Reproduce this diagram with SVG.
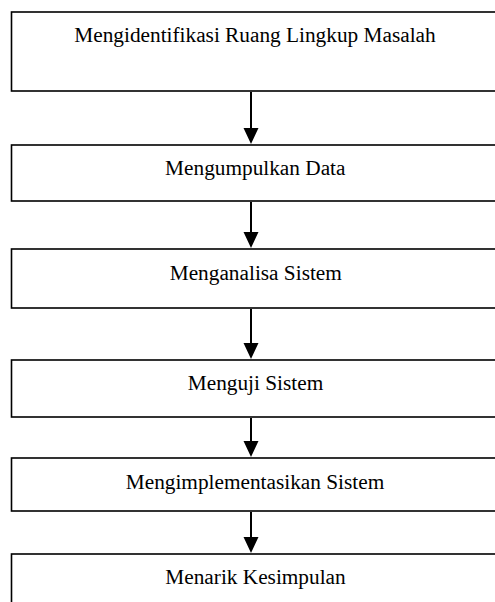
<svg xmlns="http://www.w3.org/2000/svg" width="495" height="602" viewBox="0 0 495 602">
<defs>
<style>
.box{fill:#fff;stroke:#000;stroke-width:1.6}
.lbl{font-family:"Liberation Serif","Times New Roman",serif;font-size:21.3px;fill:#000;text-anchor:middle}
.conn{stroke:#000;stroke-width:2;fill:none}
.head{fill:#000}
</style>
</defs>
<rect width="495" height="602" fill="#fff"/>
<g id="n1"><rect class="box" x="11.5" y="12" width="488" height="79"/><text class="lbl" x="255" y="42">Mengidentifikasi Ruang Lingkup Masalah</text></g>
<g id="n2"><rect class="box" x="11.5" y="145" width="488" height="56"/><text class="lbl" x="255.3" y="175">Mengumpulkan Data</text></g>
<g id="n3"><rect class="box" x="11.5" y="249" width="488" height="59"/><text class="lbl" x="255.8" y="280">Menganalisa Sistem</text></g>
<g id="n4"><rect class="box" x="11.5" y="360" width="488" height="57"/><text class="lbl" x="255.5" y="390">Menguji Sistem</text></g>
<g id="n5"><rect class="box" x="11.5" y="458" width="488" height="53"/><text class="lbl" x="255" y="489">Mengimplementasikan Sistem</text></g>
<g id="n6"><rect class="box" x="11.5" y="554" width="488" height="60"/><text class="lbl" x="255.5" y="584">Menarik Kesimpulan</text></g>
<g id="connectors">
<line class="conn" x1="251" y1="92" x2="251" y2="130"/><polygon class="head" points="243.5,128 258.5,128 251,144"/>
<line class="conn" x1="251" y1="202" x2="251" y2="234"/><polygon class="head" points="243.5,232 258.5,232 251,248"/>
<line class="conn" x1="251" y1="309" x2="251" y2="345"/><polygon class="head" points="243.5,343 258.5,343 251,359"/>
<line class="conn" x1="251" y1="418" x2="251" y2="443"/><polygon class="head" points="243.5,441 258.5,441 251,457"/>
<line class="conn" x1="251" y1="512" x2="251" y2="539"/><polygon class="head" points="243.5,537 258.5,537 251,553"/>
</g>
</svg>
